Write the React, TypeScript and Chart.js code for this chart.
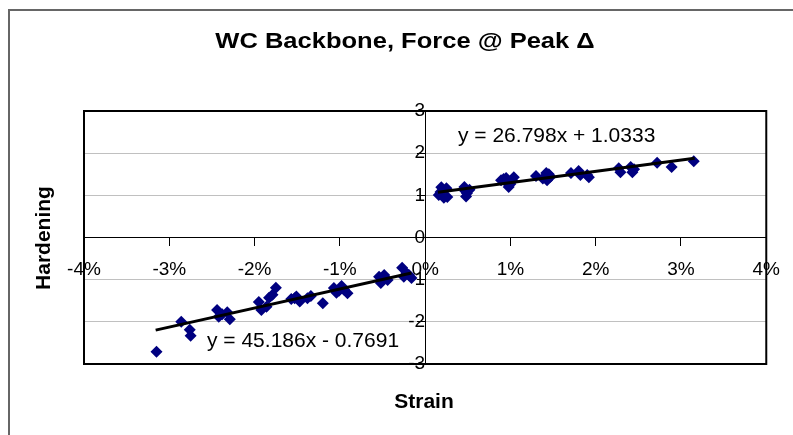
import React, { useEffect, useRef } from "react";
import { Chart, registerables } from "chart.js";

Chart.register(...registerables);

const TITLE = "WC Backbone, Force @ Peak \u0394";
const X_TITLE = "Strain";
const Y_TITLE = "Hardening";
const POS_EQUATION = "y = 26.798x + 1.0333";
const NEG_EQUATION = "y = 45.186x - 0.7691";

// Positive-strain test points (strain as fraction, hardening)
const posStrain = [
  0.0016, 0.0019, 0.0025, 0.0022, 0.0026, 0.0018,
  0.0046, 0.0049, 0.0048, 0.0052, 0.0047,
  0.0089, 0.0095, 0.0098, 0.0102, 0.0104, 0.0096, 0.0092, 0.0100,
  0.0130, 0.0142, 0.0143, 0.0147, 0.0138, 0.0145,
  0.0171, 0.0180, 0.0182, 0.0190, 0.0192,
  0.0227, 0.0229, 0.0241, 0.0243, 0.0245,
  0.0272, 0.0289, 0.0315,
];
const posHardening = [
  1.01, 1.19, 1.17, 0.94, 0.96, 1.08,
  1.20, 1.05, 0.97, 1.13, 1.10,
  1.36, 1.41, 1.20, 1.36, 1.43, 1.29, 1.39, 1.27,
  1.46, 1.53, 1.36, 1.44, 1.40, 1.50,
  1.53, 1.58, 1.48, 1.48, 1.43,
  1.64, 1.55, 1.67, 1.55, 1.62,
  1.77, 1.67, 1.81,
];

// Negative-strain test points
const negStrain = [
  -0.0315, -0.0286, -0.0276, -0.0275,
  -0.0244, -0.0242, -0.0232, -0.0229, -0.0238,
  -0.0195, -0.0192, -0.0186, -0.0183, -0.0179, -0.0175,
  -0.0157, -0.0151, -0.0147, -0.0138, -0.0134, -0.0153,
  -0.0120,
  -0.0107, -0.0104, -0.0098, -0.0095, -0.0091, -0.0101,
  -0.0054, -0.0052, -0.0048, -0.0044, -0.0050,
  -0.0027, -0.0025, -0.0019, -0.0016, -0.0022,
];
const negHardening = [
  -2.71, -2.00, -2.19, -2.33,
  -1.72, -1.88, -1.77, -1.94, -1.82,
  -1.53, -1.72, -1.64, -1.43, -1.36, -1.19,
  -1.46, -1.40, -1.52, -1.44, -1.39, -1.44,
  -1.56,
  -1.20, -1.31, -1.15, -1.24, -1.32, -1.26,
  -0.93, -1.08, -0.89, -1.01, -0.98,
  -0.72, -0.93, -0.89, -0.96, -0.84,
];

// Trend line end points as drawn
const posTrendX = [0.0015, 0.0316];
const posTrendY = [1.073, 1.880];
const negTrendX = [-0.0316, -0.0016];
const negTrendY = [-2.197, -0.841];

const xTicks = [-0.04, -0.03, -0.02, -0.01, 0, 0.01, 0.02, 0.03, 0.04];
const yTicks = [-3, -2, -1, 0, 1, 2, 3];

const FONT = "'Liberation Sans', Arial, Helvetica, sans-serif";

const zip = (xs: number[], ys: number[]) => xs.map((x, i) => ({ x, y: ys[i] }));

const decorPlugin = {
  id: "decor",
  beforeDatasetsDraw(chart: any) {
    const { ctx, chartArea } = chart;
    ctx.save();
    ctx.strokeStyle = "#000";
    ctx.lineWidth = 2;
    ctx.strokeRect(chartArea.left, chartArea.top, chartArea.right - chartArea.left, chartArea.bottom - chartArea.top);
    ctx.restore();
  },
  afterDraw(chart: any) {
    const { ctx } = chart;
    ctx.save();
    // outer frame
    ctx.strokeStyle = "#666";
    ctx.lineWidth = 2;
    ctx.beginPath();
    ctx.moveTo(9, 435);
    ctx.lineTo(9, 10);
    ctx.lineTo(793, 10);
    ctx.stroke();

    ctx.fillStyle = "#000";
    // title
    ctx.save();
    ctx.font = `bold 22px ${FONT}`;
    ctx.textAlign = "center";
    ctx.textBaseline = "alphabetic";
    ctx.translate(405, 48);
    ctx.scale(1.16, 1);
    ctx.fillText(TITLE, 0, 0);
    ctx.restore();

    // axis titles
    ctx.font = `bold 21px ${FONT}`;
    ctx.textAlign = "center";
    ctx.textBaseline = "alphabetic";
    ctx.fillText(X_TITLE, 424, 408);
    ctx.save();
    ctx.translate(50, 238);
    ctx.rotate(-Math.PI / 2);
    ctx.fillText(Y_TITLE, 0, 0);
    ctx.restore();

    // equations
    ctx.font = `21px ${FONT}`;
    ctx.textAlign = "left";
    ctx.textBaseline = "middle";
    ctx.fillText(POS_EQUATION, 458, 136);
    ctx.fillText(NEG_EQUATION, 207, 341);
    ctx.restore();
  },
};

export default function App() {
  const ref = useRef<HTMLCanvasElement>(null);
  useEffect(() => {
    if (!ref.current) return;
    const pointStyle = {
      pointStyle: "rectRot",
      pointRadius: 6,
      pointBackgroundColor: "#000080",
      pointBorderColor: "#000080",
      pointBorderWidth: 0,
      showLine: false,
      order: 1,
    };
    const lineStyle = {
      borderColor: "#000",
      borderWidth: 3,
      pointRadius: 0,
      showLine: true,
      fill: false,
      order: 0,
    };
    const chart = new Chart(ref.current, {
      type: "scatter",
      data: {
        datasets: [
          { label: "pos", data: zip(posStrain, posHardening), ...pointStyle } as any,
          { label: "neg", data: zip(negStrain, negHardening), ...pointStyle } as any,
          { label: "posTrend", data: zip(posTrendX, posTrendY), ...lineStyle } as any,
          { label: "negTrend", data: zip(negTrendX, negTrendY), ...lineStyle } as any,
        ],
      },
      options: {
        animation: false,
        responsive: false,
        devicePixelRatio: 1,
        layout: { padding: { left: 84, top: 111, right: 26, bottom: 71 } },
        plugins: {
          legend: { display: false },
          tooltip: { enabled: false },
          title: { display: false },
        },
        scales: {
          x: {
            type: "linear",
            min: -0.04,
            max: 0.04,
            position: { y: 0 } as any,
            afterBuildTicks: (s: any) => {
              s.ticks = xTicks.map((v) => ({ value: v }));
            },
            ticks: {
              font: { family: FONT, size: 19 },
              color: "#000",
              padding: 13,
              maxRotation: 0,
              autoSkip: false,
              callback: (v: any) => `${Math.round(Number(v) * 100)}%`,
            },
            grid: {
              drawOnChartArea: false,
              drawTicks: true,
              tickLength: 8,
              tickColor: "#000",
              tickWidth: 1,
            },
            border: { display: true, color: "#000", width: 1 },
          },
          y: {
            type: "linear",
            min: -3,
            max: 3,
            position: { x: 0 } as any,
            afterBuildTicks: (s: any) => {
              s.ticks = yTicks.map((v) => ({ value: v }));
            },
            ticks: {
              font: { family: FONT, size: 19 },
              color: "#000",
              padding: 9,
              autoSkip: false,
              callback: (v: any) => `${v}`,
            },
            grid: {
              drawOnChartArea: true,
              drawTicks: true,
              tickLength: 8,
              tickColor: "#000",
              tickWidth: 1,
              color: (c: any) => {
                const v = c.tick ? Math.abs(c.tick.value) : 0;
                return v === 1 || v === 2 ? "#c0c0c0" : "rgba(0,0,0,0)";
              },
            },
            border: { display: true, color: "#000", width: 1 },
          },
        },
      },
      plugins: [decorPlugin],
    });
    return () => chart.destroy();
  }, []);
  return (
    <div style={{ position: "fixed", left: 0, top: 0, width: 793, height: 435, background: "#fff" }}>
      <canvas ref={ref} width={793} height={435} style={{ display: "block" }} />
    </div>
  );
}
